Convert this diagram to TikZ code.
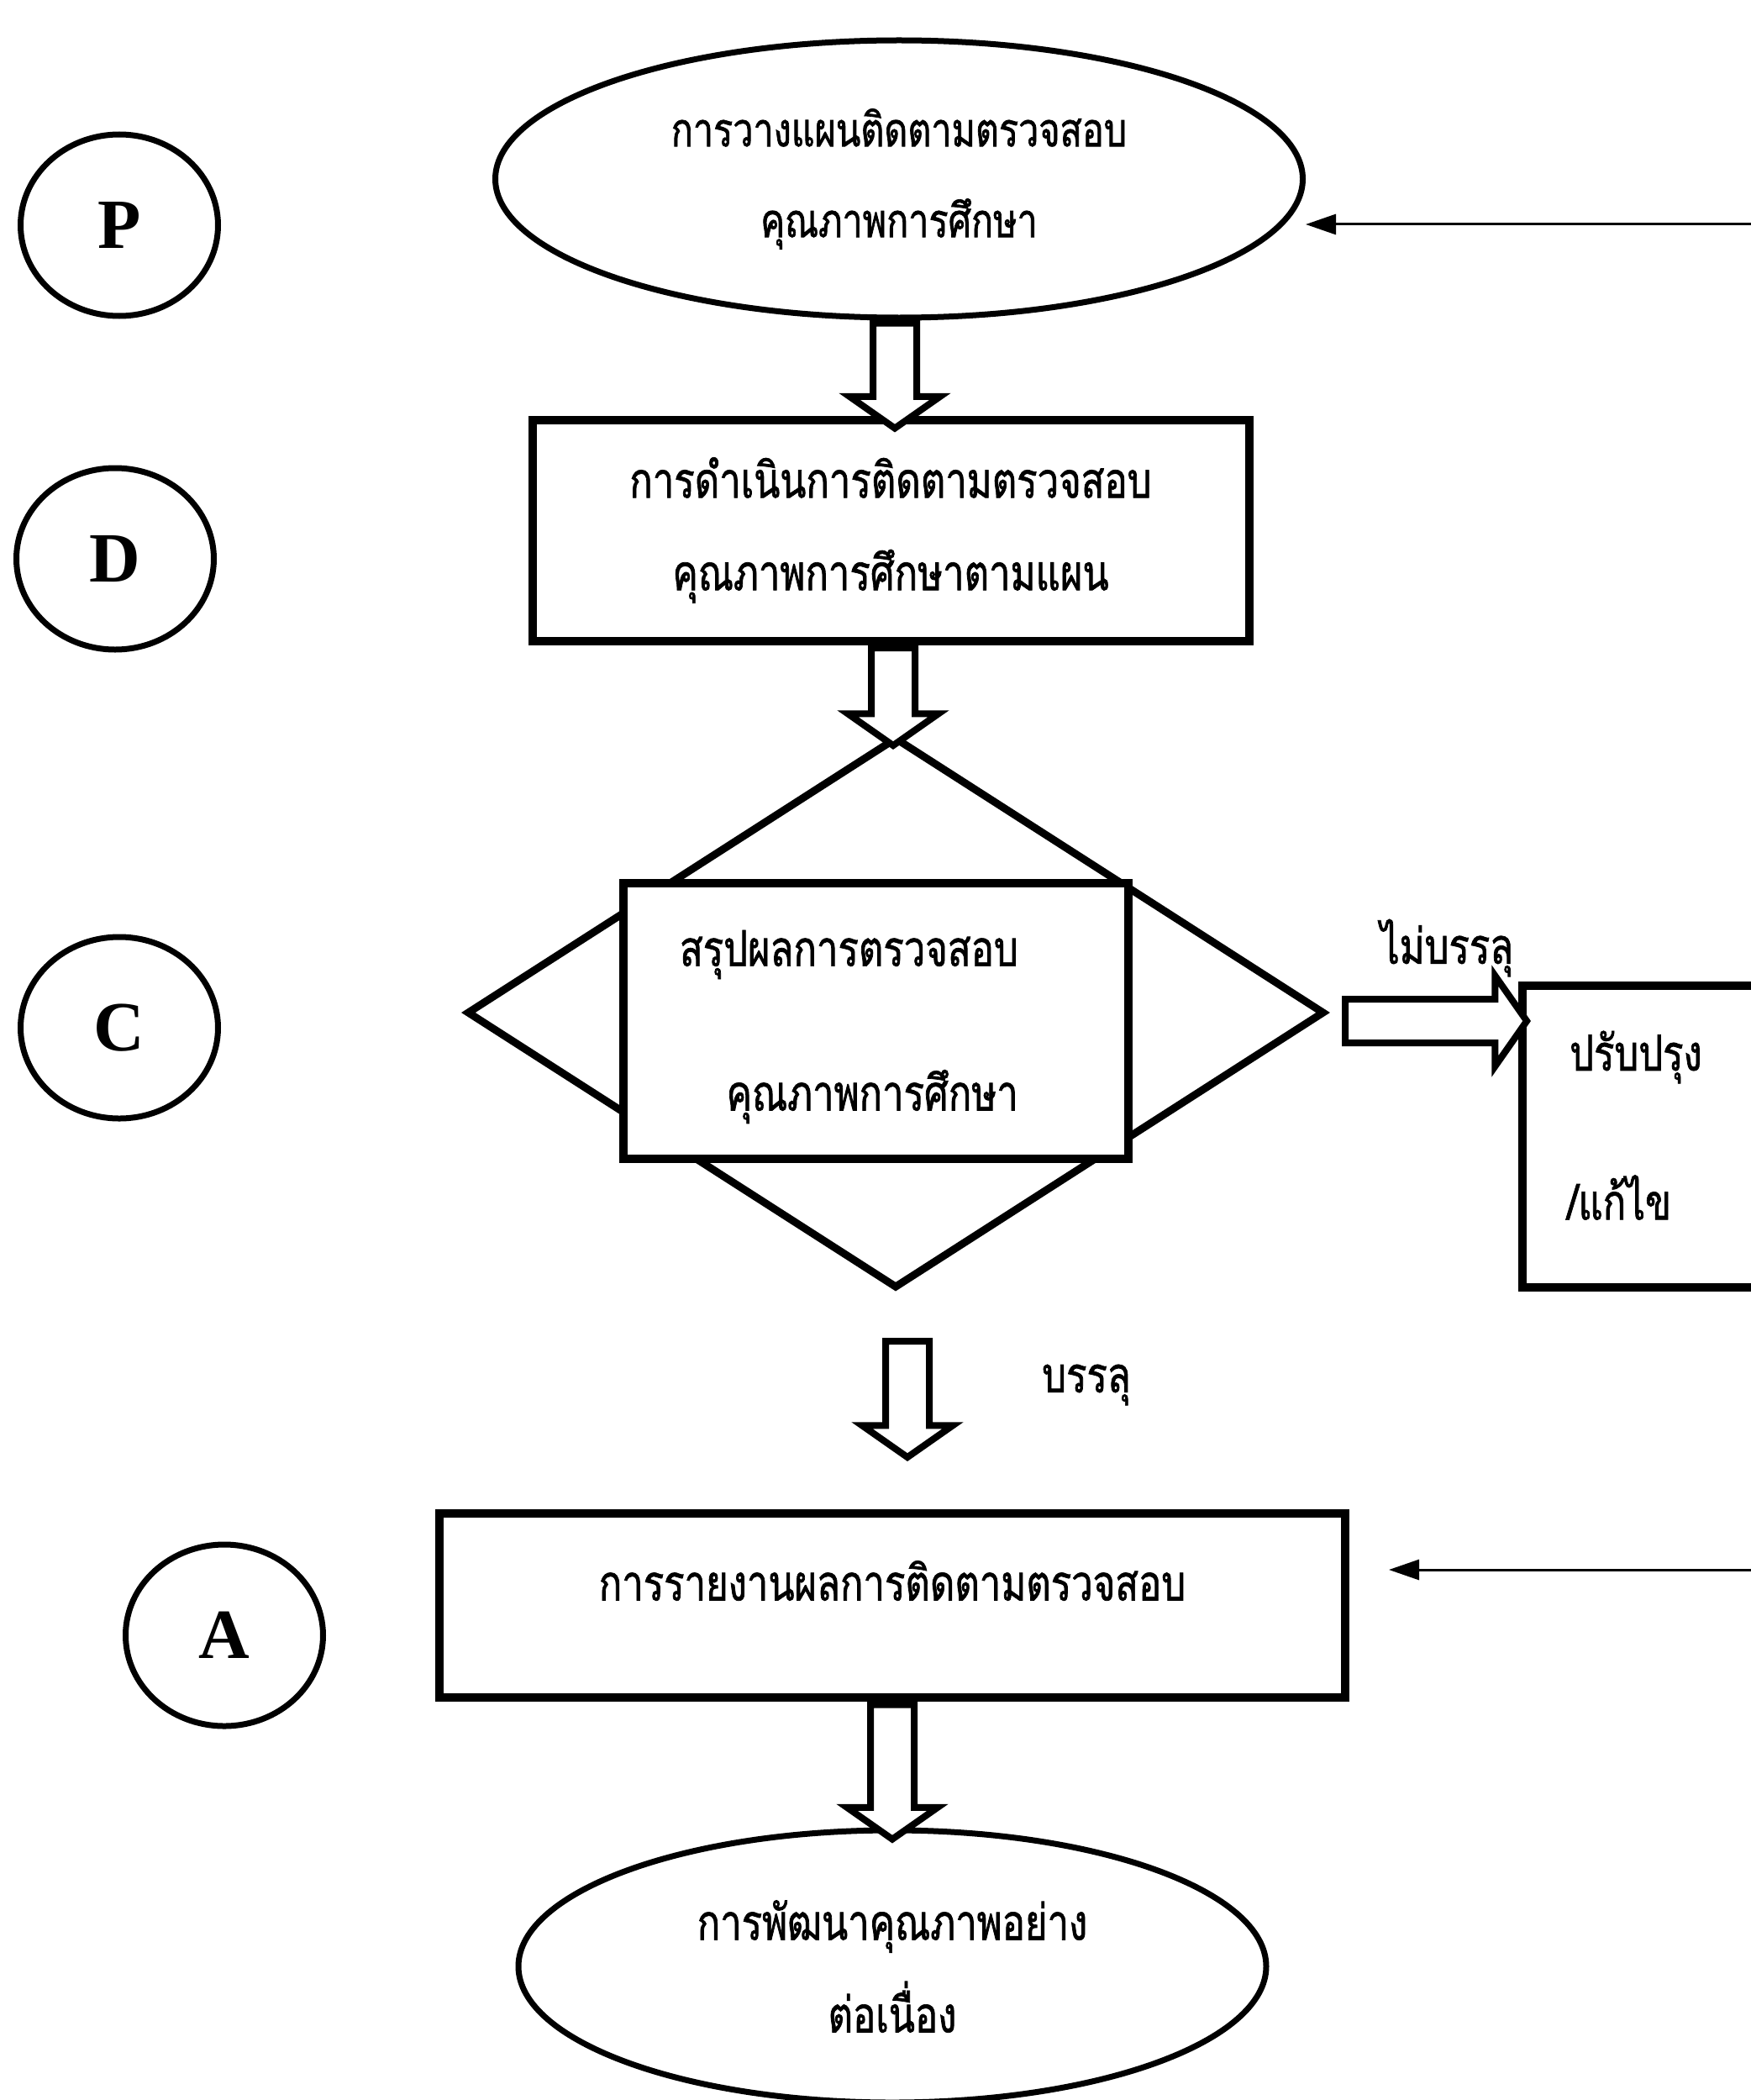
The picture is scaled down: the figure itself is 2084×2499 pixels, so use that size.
\documentclass[tikz,border=0pt]{standalone}
\usepackage{fontspec}
\setmainfont{Liberation Serif}
\newfontfamily\thaifont[Script=Thai, FakeStretch=0.77, FakeBold=1.2]{Loma}
\usetikzlibrary{shapes.geometric, shapes.arrows, positioning, calc, arrows.meta}
\tikzset{
    x=1pt, y=-1pt,
    thaitext/.style={font=\thaifont\fontsize{59}{110}\selectfont, align=center, inner sep=0pt},
    pdca/.style={ellipse, draw, line width=7pt, minimum width=235, minimum height=216,
        font=\fontsize{84}{84}\selectfont\bfseries},
    phase/.style={ellipse, draw, line width=7pt, thaitext},
    task/.style={rectangle, draw, line width=10pt, fill=white, thaitext},
    decision/.style={diamond, draw, line width=9pt, minimum width=1021, minimum height=656, inner sep=0pt},
    bigarrow/.style={single arrow, draw, fill=white, line width=8pt, inner sep=22pt,
        minimum width=0pt, single arrow head extend=28pt, single arrow tip angle=110},
    feed/.style={line width=3pt, -{Triangle[length=36pt, width=24pt]}},
}

\begin{document}
\begin{tikzpicture}
    \useasboundingbox (0,0) rectangle (2084,2499);

    \node[pdca] (P) at (142,268) {P};
    \node[pdca] (D) at (137,665) {D};
    \node[pdca] (C) at (142,1223) {C};
    \node[pdca] (A) at (267,1946) {A};

    \node[phase, minimum width=961, minimum height=330, font=\thaifont\fontsize{56}{108}\selectfont] (plan) at (1070,213)
        {การวางแผนติดตามตรวจสอบ\\คุณภาพการศึกษา};
    \node[task, minimum width=853, minimum height=263] (do) at (1060,631)
        {การดำเนินการติดตามตรวจสอบ\\คุณภาพการศึกษาตามแผน};
    \node[decision] (check) at (1066,1205) {};
    \node[task, minimum width=601, minimum height=328] (sum) at (1042,1215) {};
    \node[thaitext, anchor=east] (sum1) at (1212,1136) {สรุปผลการตรวจสอบ};
    \node[thaitext, anchor=east] (sum2) at (1212,1305) {คุณภาพการศึกษา};
    \node[task, minimum width=350, minimum height=359] (fix) at (1987,1352) {};
    \node[thaitext, anchor=west] (fix1) at (1868,1258) {ปรับปรุง};
    \node[thaitext, anchor=west] (fix2) at (1865,1425) {/แก้ไข};
    \node[task, minimum width=1078, minimum height=219] (report) at (1062,1910) {};
    \node[thaitext] (report1) at (1062,1881) {การรายงานผลการติดตามตรวจสอบ};
    \node[phase, minimum width=890, minimum height=324] (goal) at (1062,2340)
        {การพัฒนาคุณภาพอย่าง\\ต่อเนื่อง};

    \node[bigarrow, rotate=-90, minimum height=125] (a1) at ($(plan.south)!.5!(do.north)$) {};
    \node[bigarrow, rotate=-90, minimum height=116] (a2) at ($(do.south)!.5!(check.north)$) {};
    \node[bigarrow, rotate=-90, minimum height=138] (a3) at (1080,1656) {};
    \node[bigarrow, rotate=-90, minimum height=160] (a4) at ($(report.south)!.5!(goal.north)$) {};
    \node[bigarrow, minimum height=216] (a5) at (1700,1215) {};
    \node[thaitext] (fail) at (1722,1128) {ไม่บรรลุ};
    \node[thaitext] (pass) at (1293,1648) {บรรลุ};

    \coordinate (inP) at (2084,267);
    \coordinate (inA) at (2084,1868);
    \path[feed]
        (inP) edge (inP -| plan.east)
        (inA) edge[shorten >=47pt] (inA -| report.east);
\end{tikzpicture}
\end{document}
